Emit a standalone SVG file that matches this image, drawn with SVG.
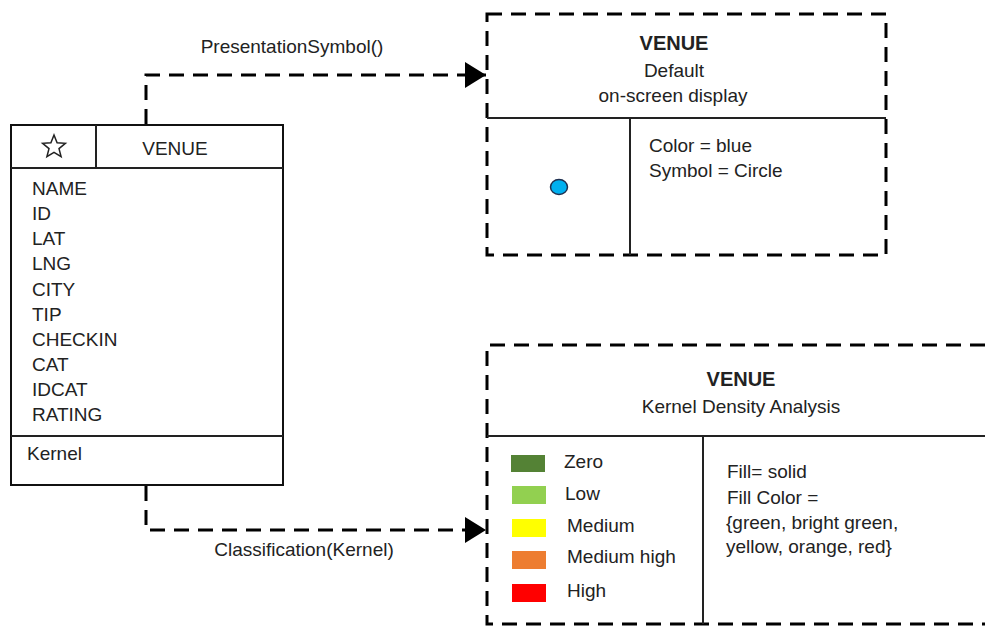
<svg xmlns="http://www.w3.org/2000/svg" width="985" height="626" viewBox="0 0 985 626">
<style>
text{font-family:"Liberation Sans",Arial,sans-serif;font-size:19px;fill:#222}
.b{font-weight:bold;font-size:20px}
.m{text-anchor:middle}
.dash{fill:none;stroke:#000;stroke-width:3;stroke-dasharray:15 9}
.solid{fill:none;stroke:#222;stroke-width:2}
.box{fill:#fff;stroke:#111;stroke-width:2}
</style>
<defs>
<marker id="arr" markerUnits="userSpaceOnUse" markerWidth="24" markerHeight="28" refX="21" refY="13" orient="auto">
<path d="M0,0 L21,13 L0,26 Z" fill="#000"/>
</marker>
</defs>
<g id="connectors">
<path class="dash" d="M146,124 V75 H486" marker-end="url(#arr)"/>
<text class="m" x="292" y="53">PresentationSymbol()</text>
<path class="dash" d="M146,486 V530 H486" marker-end="url(#arr)"/>
<text class="m" x="304" y="556">Classification(Kernel)</text>
</g>
<g id="venue-class">
<rect class="box" x="11" y="125" width="272" height="360"/>
<line class="solid" x1="11" y1="168" x2="283" y2="168"/>
<line class="solid" x1="96" y1="125" x2="96" y2="168"/>
<line class="solid" x1="11" y1="436" x2="283" y2="436"/>
<polygon points="54,135 57.1,142.7 65.4,143.3 59,148.6 61.1,156.7 54,152.3 46.9,156.7 49,148.6 42.6,143.3 50.9,142.7" fill="none" stroke="#222" stroke-width="1.5"/>
<text class="m" x="175" y="155">VENUE</text>
<text x="32" y="195">NAME</text>
<text x="32" y="220">ID</text>
<text x="32" y="245">LAT</text>
<text x="32" y="270">LNG</text>
<text x="32" y="296">CITY</text>
<text x="32" y="321">TIP</text>
<text x="32" y="346">CHECKIN</text>
<text x="32" y="371">CAT</text>
<text x="32" y="396">IDCAT</text>
<text x="32" y="421">RATING</text>
<text x="27" y="460">Kernel</text>
</g>
<g id="venue-default">
<path class="dash" d="M487,14 H886 V255 H487 Z"/>
<line class="solid" x1="487" y1="118" x2="886" y2="118"/>
<line class="solid" x1="630" y1="118" x2="630" y2="255"/>
<text class="m b" x="674" y="50">VENUE</text>
<text class="m" x="674" y="77">Default</text>
<text class="m" x="673" y="102">on-screen display</text>
<ellipse cx="559" cy="187" rx="8.5" ry="7.5" fill="#00B0F0" stroke="#1F3050" stroke-width="1.5"/>
<text x="649" y="152">Color = blue</text>
<text x="649" y="177">Symbol = Circle</text>
</g>
<g id="venue-kernel">
<path class="dash" d="M985,345 H487 V624 H985"/>
<line class="solid" x1="487" y1="436" x2="985" y2="436"/>
<line class="solid" x1="703" y1="436" x2="703" y2="624"/>
<text class="m b" x="741" y="386">VENUE</text>
<text class="m" x="741" y="413">Kernel Density Analysis</text>
<rect x="511" y="455" width="34" height="17" fill="#548235"/>
<rect x="512" y="486" width="34" height="18" fill="#92D050"/>
<rect x="512" y="519" width="34" height="18" fill="#FFFF00"/>
<rect x="512" y="551" width="34" height="18" fill="#ED7D31"/>
<rect x="512" y="584" width="34" height="18" fill="#FF0000"/>
<text x="564" y="468">Zero</text>
<text x="565" y="500">Low</text>
<text x="567" y="532">Medium</text>
<text x="567" y="563">Medium high</text>
<text x="567" y="597">High</text>
<text x="727" y="478">Fill= solid</text>
<text x="727" y="504">Fill Color =</text>
<text x="726" y="529">{green, bright green,</text>
<text x="726" y="553">yellow, orange, red}</text>
</g>
</svg>
